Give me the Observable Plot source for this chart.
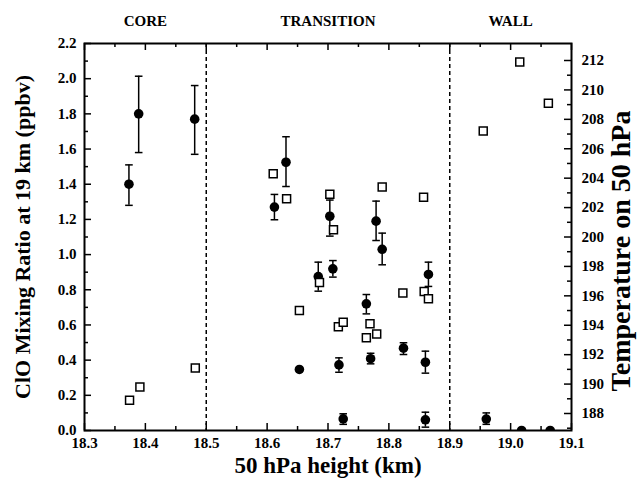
<!DOCTYPE html>
<html><head><meta charset="utf-8">
<script src="https://cdn.jsdelivr.net/npm/d3@7"></script>
<script src="https://cdn.jsdelivr.net/npm/@observablehq/plot@0.6"></script>
<style>body{margin:0;background:#fff} svg{font-family:"Liberation Serif",serif}</style>
</head><body><div id="chart"></div>
<script>
// ClO mixing ratio (filled circles, left axis)
const cloHeight = [18.373, 18.389, 18.481, 18.612, 18.631, 18.653, 18.684, 18.703, 18.708, 18.718, 18.725, 18.763, 18.770, 18.779, 18.789, 18.824, 18.860, 18.860, 18.865, 18.960, 19.018, 19.065];
const cloValue  = [1.40, 1.80, 1.77, 1.27, 1.525, 0.347, 0.875, 1.218, 0.919, 0.373, 0.066, 0.720, 0.408, 1.19, 1.03, 0.468, 0.388, 0.061, 0.887, 0.065, 0.0, 0.0];
const cloLow    = [1.28, 1.58, 1.57, 1.198, 1.387, null, 0.792, 1.105, 0.872, 0.331, 0.035, 0.663, 0.379, 1.08, 0.942, 0.432, 0.326, 0.019, 0.819, 0.035, null, null];
const cloHigh   = [1.51, 2.014, 1.961, 1.342, 1.67, null, 0.957, 1.31, 0.966, 0.413, 0.095, 0.773, 0.439, 1.304, 1.122, 0.499, 0.451, 0.104, 0.957, 0.10, null, null];
// Temperature on 50 hPa (open squares, right axis)
const tempHeight = [18.374, 18.391, 18.482, 18.610, 18.632, 18.653, 18.686, 18.703, 18.709, 18.717, 18.725, 18.763, 18.769, 18.780, 18.789, 18.823, 18.857, 18.858, 18.865, 18.955, 19.015, 19.062];
const tempValue  = [188.9, 189.8, 191.1, 204.3, 202.6, 195.0, 196.9, 202.9, 200.5, 193.9, 194.2, 193.15, 194.1, 193.4, 203.4, 196.2, 202.7, 196.3, 195.8, 207.2, 211.9, 209.1];
// Regions
const regionNames = ["CORE", "TRANSITION", "WALL"];
const regionBounds = [18.3, 18.5, 18.9, 19.1];
// Ticks
const xTicks = [18.3, 18.4, 18.5, 18.6, 18.7, 18.8, 18.9, 19.0, 19.1];
const xMinorTicks = [18.35, 18.45, 18.55, 18.65, 18.75, 18.85, 18.95, 19.05];
const yTicks = [0, 0.2, 0.4, 0.6, 0.8, 1.0, 1.2, 1.4, 1.6, 1.8, 2.0, 2.2];
const yMinorTicks = [0.1, 0.3, 0.5, 0.7, 0.9, 1.1, 1.3, 1.5, 1.7, 1.9, 2.1];
const tempTicks = [188, 190, 192, 194, 196, 198, 200, 202, 204, 206, 208, 210, 212];
const tempMinorTicks = [187, 189, 191, 193, 195, 197, 199, 201, 203, 205, 207, 209, 211, 213];

const yDomain = [0, 2.2];
const tempDomain = [186.844, 213.156];
const tToY = t => (t - tempDomain[0]) / (tempDomain[1] - tempDomain[0]) * yDomain[1];

const clo = cloHeight.map((h, i) => ({h, v: cloValue[i], lo: cloLow[i], hi: cloHigh[i]}));
const cloErr = clo.filter(d => d.lo != null);
const temps = tempHeight.map((h, i) => ({h, t: tempValue[i]}));
const regions = regionNames.map((name, i) => ({name, mid: (regionBounds[i] + regionBounds[i + 1]) / 2}));
const dividers = regionBounds.slice(1, -1);

const W = 640, H = 484, mL = 84, mR = 69, mT = 43, mB = 54;
const fw = W - mL - mR, fh = H - mT - mB;
const capSymbol = {draw(ctx, size) { const r = Math.sqrt(size / Math.PI); ctx.moveTo(-r, 0); ctx.lineTo(r, 0); }};
const font = {fontWeight: "bold", fontSize: 15, fill: "black"};

const chart = Plot.plot({
  width: W, height: H,
  marginLeft: mL, marginRight: mR, marginTop: mT, marginBottom: mB,
  x: {domain: [18.3, 19.1]},
  y: {domain: yDomain},
  style: {fontFamily: "'Liberation Serif', serif", background: "white"},
  marks: [
    Plot.ruleX(dividers, {x: d => d, stroke: "black", strokeWidth: 1.5, strokeDasharray: "4,3"}),
    // error bars
    Plot.ruleX(cloErr, {x: "h", y1: "lo", y2: "hi", stroke: "black", strokeWidth: 1.5}),
    Plot.dot(cloErr, {x: "h", y: "lo", symbol: capSymbol, r: 3.8, stroke: "black", fill: "none", strokeWidth: 1.5}),
    Plot.dot(cloErr, {x: "h", y: "hi", symbol: capSymbol, r: 3.8, stroke: "black", fill: "none", strokeWidth: 1.5}),
    // ClO circles
    Plot.dot(clo, {x: "h", y: "v", r: 4.8, fill: "black", clip: true}),
    // Temperature squares
    Plot.dot(temps, {x: "h", y: d => tToY(d.t), symbol: "square", r: 4.5, stroke: "black", fill: "white", strokeWidth: 1.5}),
    // inward ticks
    Plot.tickX(xTicks, {x: d => d, insetTop: fh - 7, stroke: "black", strokeWidth: 1.5}),
    Plot.tickX(xMinorTicks, {x: d => d, insetTop: fh - 4, stroke: "black", strokeWidth: 1.5}),
    Plot.tickX(xTicks, {x: d => d, insetBottom: fh - 7, stroke: "black", strokeWidth: 1.5}),
    Plot.tickX(xMinorTicks, {x: d => d, insetBottom: fh - 4, stroke: "black", strokeWidth: 1.5}),
    Plot.tickY(yTicks, {y: d => d, insetRight: fw - 7, stroke: "black", strokeWidth: 1.5}),
    Plot.tickY(yMinorTicks, {y: d => d, insetRight: fw - 4, stroke: "black", strokeWidth: 1.5}),
    Plot.tickY(tempTicks, {y: d => tToY(d), insetLeft: fw - 7, stroke: "black", strokeWidth: 1.5}),
    Plot.tickY(tempMinorTicks.filter(t => t < 213), {y: d => tToY(d), insetLeft: fw - 4, stroke: "black", strokeWidth: 1.5}),
    Plot.frame({stroke: "black", strokeWidth: 2}),
    // axes labels
    Plot.axisX({ticks: xTicks, tickSize: 0, tickPadding: 7, tickFormat: d3.format(".1f"), label: null, ...font}),
    Plot.axisY({ticks: yTicks, tickSize: 0, tickPadding: 8, tickFormat: d3.format(".1f"), label: null, anchor: "left", ...font}),
    Plot.axisY({ticks: tempTicks.map(tToY), tickSize: 0, tickPadding: 10, tickFormat: v => String(Math.round(tempDomain[0] + v / yDomain[1] * (tempDomain[1] - tempDomain[0]))), label: null, anchor: "right", ...font}),
    // titles
    Plot.text(["50 hPa height (km)"], {frameAnchor: "bottom", dy: 42, text: d => d, fontSize: 23, fontWeight: "bold", fill: "black"}),
    Plot.text(["ClO Mixing Ratio at 19 km (ppbv)"], {frameAnchor: "left", dx: -62, rotate: -90, textAnchor: "middle", text: d => d, fontSize: 22, fontWeight: "bold", fill: "black"}),
    Plot.text(["Temperature on 50 hPa"], {frameAnchor: "right", dx: 50, dy: 14, rotate: -90, textAnchor: "middle", text: d => d, fontSize: 28, fontWeight: "bold", fill: "black"}),
    Plot.text(regions, {x: "mid", frameAnchor: "top", dy: -28, text: "name", fontSize: 15, fontWeight: "bold", fill: "black"})
  ]
});
document.getElementById("chart").append(chart);
</script>
</body></html>
